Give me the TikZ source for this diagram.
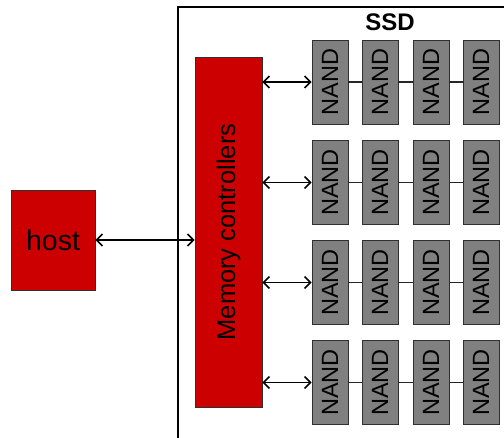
\documentclass[tikz,border=0pt]{standalone}
\usepackage{fontspec}
\setmainfont{Liberation Sans}
\usetikzlibrary{arrows.meta}
\definecolor{boxred}{HTML}{CC0000}
\definecolor{nandgray}{HTML}{808080}
\definecolor{edgegray}{HTML}{303030}
\begin{document}
\begin{tikzpicture}[x=1pt,y=-1pt,
  redbox/.style={draw=edgegray,line width=0.8pt,fill=boxred,inner sep=0pt},
  nandbox/.style={draw=edgegray,line width=0.8pt,fill=nandgray,inner sep=0pt,minimum width=36pt,minimum height=84pt,font=\fontsize{23.5}{28}\selectfont},
  biarrow/.style={{Straight Barb[length=6pt,width=12pt]}-{Straight Barb[length=6pt,width=12pt]},line width=1.5pt},
  chain/.style={line width=1.4pt,draw=black!85}
]
\useasboundingbox (0,0) rectangle (504,438);
\fill[white] (0,0) rectangle (504,438);
% SSD frame
\draw[line width=1.8pt] (178,440) -- (178,7) -- (506,7);
\node[font=\bfseries\fontsize{24}{28}\selectfont] (ssd) at (390,22) {SSD};
% host
\node[redbox,minimum width=84pt,minimum height=100pt,font=\fontsize{28.5}{33}\selectfont] (host) at (53,240) {host};
% memory controllers
\node[redbox,minimum width=67pt,minimum height=350pt,font=\fontsize{25.5}{30}\selectfont] (mc) at (228.5,232) {\rotatebox{90}{Memory controllers}};
\draw[biarrow] (host.east) -- (mc.west |- host.east);
% NAND grid
\foreach \r/\y in {1/82,2/182.5,3/282.5,4/382.5}{
  \foreach \c/\x in {1/330,2/380,3/431,4/481}{
    \node[nandbox] (n\r\c) at (\x,\y) {\rotatebox{90}{NAND}};
  }
  \draw[chain] (n\r1) -- (n\r2);
  \draw[chain] (n\r2) -- (n\r3);
  \draw[chain] (n\r3) -- (n\r4);
  \draw[biarrow] (mc.east |- n\r1.west) -- (n\r1.west);
}
\end{tikzpicture}
\end{document}
